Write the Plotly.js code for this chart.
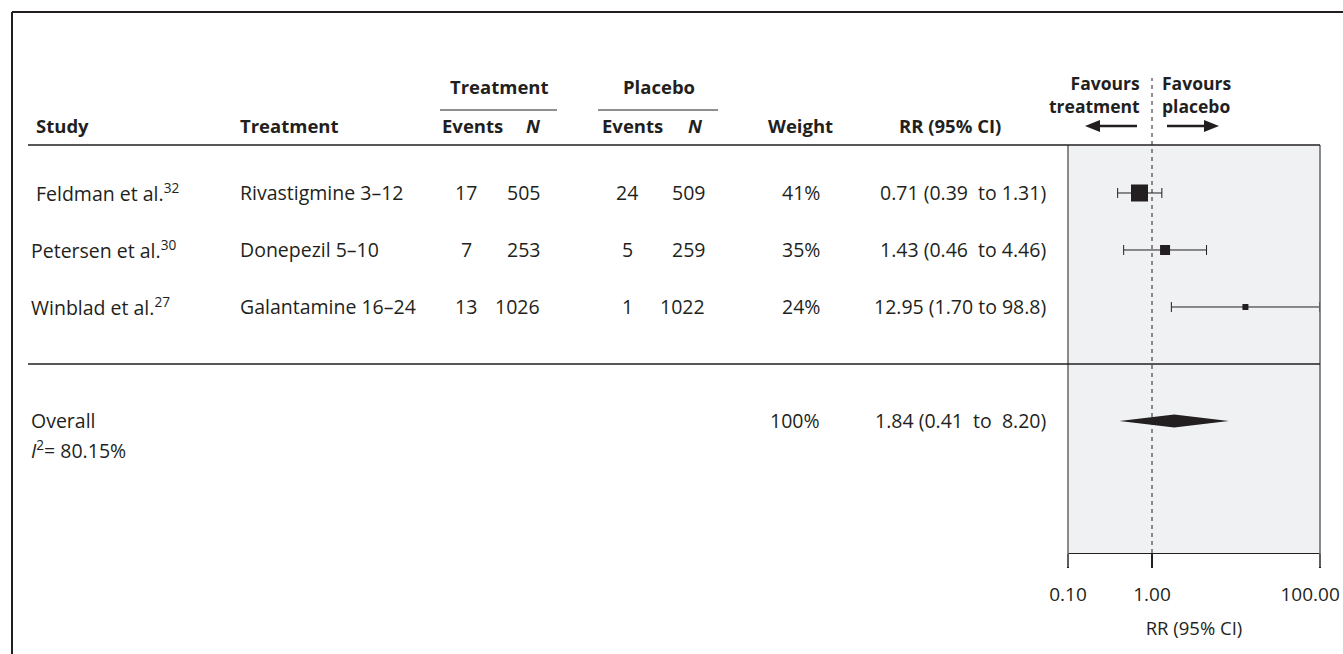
<!DOCTYPE html>
<html><head><meta charset="utf-8">
<script src="https://cdn.plot.ly/plotly-3.0.1.min.js"></script>
<style>html,body{margin:0;padding:0;background:#fff}#chart{width:1343px;height:654px}</style>
</head><body><div id="chart"></div>
<script>
// ---------- data ----------
const studies = ["Feldman et al.", "Petersen et al.", "Winblad et al."];
const refs = ["32", "30", "27"];
const treatments = ["Rivastigmine 3–12", "Donepezil 5–10", "Galantamine 16–24"];
const trtEvents = [17, 7, 13];
const trtN = [505, 253, 1026];
const plcEvents = [24, 5, 1];
const plcN = [509, 259, 1022];
const weights = [41, 35, 24];
const rr = [0.71, 1.43, 12.95];
const rrLow = [0.39, 0.46, 1.70];
const rrHigh = [1.31, 4.46, 98.8];
const rrLabels = ["0.71 (0.39\u00a0 to 1.31)", "1.43 (0.46\u00a0 to 4.46)", "12.95 (1.70 to 98.8)"];
const overallRR = [1.84];
const overallLow = [0.41];
const overallHigh = [8.20];
const overallWeight = [100];
const overallLabel = ["1.84 (0.41\u00a0 to\u00a0 8.20)"];
const i2Value = [80.15];
const tickVals = [0.1, 1, 100];
const tickLabels = ["0.10", "1.00", "100.00"];

// ---------- layout helpers ----------
const W = 1343, H = 654;
const M = {l: 1068, r: 23, t: 145, b: 101};
const PW = W - M.l - M.r, PH = H - M.t - M.b;
const px = v => (v - M.l) / PW;        // pixel x -> paper
const py = v => (H - M.b - v) / PH;    // pixel y -> paper
const rows = studies.map((_, i) => i);
const overallRow = 4, i2Row = 4.46, sepRow = 3;
const INK = '#231f20';
const FONT = '"Open Sans", "Noto Sans", sans-serif';
const FS = 19.5, FSH = 18.5;
const sizes = [17, 10, 6];
const dh = 0.115;

const traces = [
  {
    type: 'scatter', mode: 'markers', x: rr, y: rows, cliponaxis: false,
    marker: {symbol: 'square', size: sizes, color: INK, opacity: 1, line: {width: 0}},
    error_x: {type: 'data', symmetric: false,
      array: rr.map((v, i) => rrHigh[i] - v),
      arrayminus: rr.map((v, i) => v - rrLow[i]),
      color: INK, thickness: 1, width: 5},
    hoverinfo: 'skip', showlegend: false
  },
  {
    type: 'scatter', mode: 'lines', fill: 'toself', fillcolor: INK,
    x: [overallLow[0], overallRR[0], overallHigh[0], overallRR[0], overallLow[0]],
    y: [overallRow, overallRow - dh, overallRow, overallRow + dh, overallRow],
    line: {width: 0, color: INK}, hoverinfo: 'skip', showlegend: false
  }
];

const ann = [];
function txt(text, x, y, align, opts) {
  const a = Object.assign({
    text: text, xref: 'paper', x: px(x), showarrow: false,
    xanchor: align, yanchor: 'middle', align: align,
    font: {family: FONT, size: FS, color: INK}
  }, opts || {});
  if (a.yref === 'y') a.y = y; else { a.yref = 'paper'; a.y = py(y); }
  ann.push(a);
}
const B = s => '<b>' + s + '</b>';
const HF = {font: {family: FONT, size: FSH, color: INK}};
// header
const HY = 126, GY = 86;
txt(B('Study'), 34, HY, 'left', HF);
txt(B('Treatment'), 238, HY, 'left', HF);
txt(B('Treatment'), 499, GY, 'center', HF);
txt(B('Placebo'), 659, GY, 'center', HF);
txt(B('Events'), 472, HY, 'center', HF);
txt(B('<i>N</i>'), 533, HY, 'center', HF);
txt(B('Events'), 632, HY, 'center', HF);
txt(B('<i>N</i>'), 695, HY, 'center', HF);
txt(B('Weight'), 800, HY, 'center', HF);
txt(B('RR (95% CI)'), 950, HY, 'center', HF);
txt(B('Favours<br>treatment'), 1142, 94, 'right', {font: {family: FONT, size: 17.5, color: INK}});
txt(B('Favours<br>placebo'), 1160, 94, 'left', {font: {family: FONT, size: 17.5, color: INK}});
// rows
rows.forEach(i => {
  const o = {yref: 'y'};
  txt(studies[i] + '<sup>' + refs[i] + '</sup>', i === 0 ? 34 : 29, i, 'left', o);
  txt(treatments[i], 238, i, 'left', o);
  txt(String(trtEvents[i]), 466, i, 'center', o);
  txt(String(trtN[i]), 542, i, 'right', o);
  txt(String(plcEvents[i]), 627, i, 'center', o);
  txt(String(plcN[i]), 707, i, 'right', o);
  txt(weights[i] + '%', 822, i, 'right', o);
  txt(rrLabels[i], 1048, i, 'right', o);
});
txt('Overall', 29, overallRow, 'left', {yref: 'y'});
txt('<i>I</i><sup>2</sup>= ' + i2Value[0].toFixed(2) + '%', 29, i2Row, 'left', {yref: 'y', yshift: -2});
txt(overallWeight[0] + '%', 822, overallRow, 'right', {yref: 'y'});
txt(overallLabel[0], 1048, overallRow, 'right', {yref: 'y'});

const seg = (x0, y0, x1, y1, w, c, extra) => Object.assign({type: 'line', xref: 'paper', yref: 'paper',
  x0: px(x0), x1: px(x1), y0: py(y0), y1: py(y1), line: {color: c || INK, width: w}}, extra || {});
const tri = (pts) => ({type: 'path', xref: 'paper', yref: 'paper', fillcolor: INK, line: {width: 0},
  path: 'M' + pts.map(p => px(p[0]) + ',' + py(p[1])).join(' L') + ' Z'});
const AY = 126;
const shapes = [
  // outer frame
  seg(12, 12, 1343, 12, 2),
  seg(12, 12, 12, 654, 2),
  // group underlines
  seg(440, 110, 557, 110, 1),
  seg(598, 110, 718, 110, 1),
  // gray box sides
  seg(1068, 145, 1068, 567, 1.6, '#6d6e71'),
  seg(1320, 145, 1320, 567, 1.6, '#6d6e71'),
  // header rule
  seg(28, 145, 1320, 145, 1.3),
  // separator
  {type: 'line', xref: 'paper', yref: 'y', x0: px(28), x1: 1, y0: sepRow, y1: sepRow, line: {color: INK, width: 1.3}},
  // arrows
  seg(1098, AY, 1137, AY, 2.6),
  tri([[1085, AY], [1100, AY - 6], [1100, AY + 6]]),
  seg(1167, AY, 1205, AY, 2.6),
  tri([[1219, AY], [1204, AY - 6], [1204, AY + 6]]),
  // null line
  {type: 'line', xref: 'x', yref: 'paper', x0: 1, x1: 1, y0: 0, y1: py(78), line: {color: INK, width: 1, dash: '4px,4px'}}
];

const layout = {
  width: W, height: H, margin: M,
  paper_bgcolor: '#ffffff', plot_bgcolor: '#f0f1f3',
  font: {family: FONT, size: FS, color: INK},
  showlegend: false,
  xaxis: {
    type: 'log', range: [-1, 2], tickvals: tickVals,
    ticktext: tickLabels.map((t, i) => i === tickLabels.length - 1 ? t + '\u00a0\u00a0\u00a0\u00a0' : t),
    ticks: 'outside', ticklen: 14, tickwidth: 1.3, tickcolor: INK,
    showline: true, linecolor: INK, linewidth: 1.3, showgrid: false, zeroline: false,
    ticklabelstandoff: 10, ticklabeloverflow: 'allow',
    tickfont: {family: FONT, size: 19, color: INK},
    title: {text: 'RR (95% CI)', font: {family: FONT, size: 18.5, color: INK}, standoff: 16},
    fixedrange: true
  },
  yaxis: {range: [6.316, -0.842], visible: false, fixedrange: true},
  annotations: ann, shapes: shapes
};
Plotly.newPlot('chart', traces, layout, {displayModeBar: false, staticPlot: true});
</script></body></html>
